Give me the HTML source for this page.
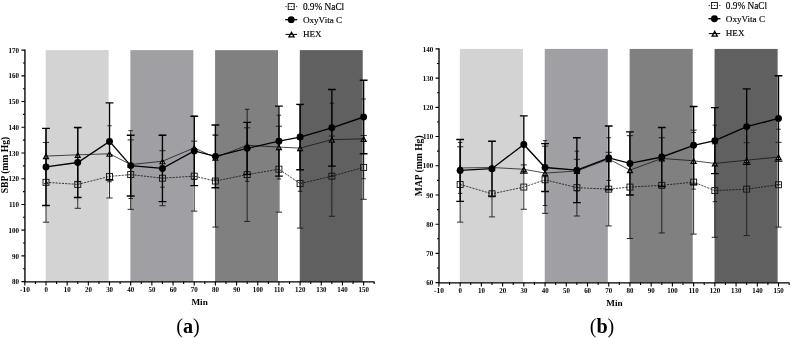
<!DOCTYPE html>
<html><head><meta charset="utf-8"><title>Figure</title>
<style>html,body{margin:0;padding:0;background:#fff;}svg{display:block;will-change:transform;}text{fill:#000;}</style></head>
<body>
<svg width="791" height="338" viewBox="0 0 791 338">
<rect width="791" height="338" fill="#fff"/>
<g>
<rect x="45.7" y="50.12" width="62.93" height="231.48" fill="#d3d3d3"/>
<rect x="130.4" y="50.12" width="62.93" height="231.48" fill="#a0a0a4"/>
<rect x="215.1" y="50.12" width="62.93" height="231.48" fill="#808080"/>
<rect x="299.8" y="50.12" width="62.92" height="231.48" fill="#606060"/>
<path d="M46 142.45V222.19M42.9 142.45h6.2M42.9 222.19h6.2" stroke="#1a1a1a" stroke-width="0.9" fill="none"/>
<path d="M77.76 160.46V208.3M74.66 160.46h6.2M74.66 208.3h6.2" stroke="#1a1a1a" stroke-width="0.9" fill="none"/>
<path d="M109.53 154.8V198.01M106.43 154.8h6.2M106.43 198.01h6.2" stroke="#1a1a1a" stroke-width="0.9" fill="none"/>
<path d="M130.7 139.88V209.33M127.6 139.88h6.2M127.6 209.33h6.2" stroke="#1a1a1a" stroke-width="0.9" fill="none"/>
<path d="M162.46 150.69V205.73M159.36 150.69h6.2M159.36 205.73h6.2" stroke="#1a1a1a" stroke-width="0.9" fill="none"/>
<path d="M194.23 141.17V211.13M191.13 141.17h6.2M191.13 211.13h6.2" stroke="#1a1a1a" stroke-width="0.9" fill="none"/>
<path d="M215.4 135V227.07M212.3 135h6.2M212.3 227.07h6.2" stroke="#1a1a1a" stroke-width="0.9" fill="none"/>
<path d="M247.16 127.79V221.42M244.06 127.79h6.2M244.06 221.42h6.2" stroke="#1a1a1a" stroke-width="0.9" fill="none"/>
<path d="M278.93 126.25V212.16M275.82 126.25h6.2M275.82 212.16h6.2" stroke="#1a1a1a" stroke-width="0.9" fill="none"/>
<path d="M300.1 139.11V228.1M297 139.11h6.2M297 228.1h6.2" stroke="#1a1a1a" stroke-width="0.9" fill="none"/>
<path d="M331.86 136.02V216.27M328.76 136.02h6.2M328.76 216.27h6.2" stroke="#1a1a1a" stroke-width="0.9" fill="none"/>
<path d="M363.62 135.51V199.3M360.52 135.51h6.2M360.52 199.3h6.2" stroke="#1a1a1a" stroke-width="0.9" fill="none"/>
<polyline points="46,182.32 77.76,184.38 109.53,176.41 130.7,174.6 162.46,178.21 194.23,176.15 215.4,181.03 247.16,174.6 278.93,169.2 300.1,183.61 331.86,176.15 363.62,167.4" fill="none" stroke="#111" stroke-width="0.8" stroke-dasharray="2.1 1.1"/>
<rect x="43" y="179.32" width="6" height="6" fill="none" stroke="#111" stroke-width="0.9"/>
<rect x="74.76" y="181.38" width="6" height="6" fill="none" stroke="#111" stroke-width="0.9"/>
<rect x="106.53" y="173.41" width="6" height="6" fill="none" stroke="#111" stroke-width="0.9"/>
<rect x="127.7" y="171.6" width="6" height="6" fill="none" stroke="#111" stroke-width="0.9"/>
<rect x="159.46" y="175.21" width="6" height="6" fill="none" stroke="#111" stroke-width="0.9"/>
<rect x="191.23" y="173.15" width="6" height="6" fill="none" stroke="#111" stroke-width="0.9"/>
<rect x="212.4" y="178.03" width="6" height="6" fill="none" stroke="#111" stroke-width="0.9"/>
<rect x="244.16" y="171.6" width="6" height="6" fill="none" stroke="#111" stroke-width="0.9"/>
<rect x="275.93" y="166.2" width="6" height="6" fill="none" stroke="#111" stroke-width="0.9"/>
<rect x="297.1" y="180.61" width="6" height="6" fill="none" stroke="#111" stroke-width="0.9"/>
<rect x="328.86" y="173.15" width="6" height="6" fill="none" stroke="#111" stroke-width="0.9"/>
<rect x="360.62" y="164.4" width="6" height="6" fill="none" stroke="#111" stroke-width="0.9"/>
<path d="M46 128.57V183.61M43.75 128.57h4.5M43.75 183.61h4.5" stroke="#111" stroke-width="0.85" fill="none"/>
<path d="M77.76 127.79V181.81M75.51 127.79h4.5M75.51 181.81h4.5" stroke="#111" stroke-width="0.85" fill="none"/>
<path d="M109.53 125.74V181.81M107.28 125.74h4.5M107.28 181.81h4.5" stroke="#111" stroke-width="0.85" fill="none"/>
<path d="M130.7 130.62V198.52M128.45 130.62h4.5M128.45 198.52h4.5" stroke="#111" stroke-width="0.85" fill="none"/>
<path d="M162.46 135.25V187.21M160.21 135.25h4.5M160.21 187.21h4.5" stroke="#111" stroke-width="0.85" fill="none"/>
<path d="M194.23 116.22V179.49M191.98 116.22h4.5M191.98 179.49h4.5" stroke="#111" stroke-width="0.85" fill="none"/>
<path d="M215.4 135.25V180.01M213.15 135.25h4.5M213.15 180.01h4.5" stroke="#111" stroke-width="0.85" fill="none"/>
<path d="M247.16 109.28V181.29M244.91 109.28h4.5M244.91 181.29h4.5" stroke="#111" stroke-width="0.85" fill="none"/>
<path d="M278.93 115.19V178.98M276.68 115.19h4.5M276.68 178.98h4.5" stroke="#111" stroke-width="0.85" fill="none"/>
<path d="M300.1 104.9V191.32M297.85 104.9h4.5M297.85 191.32h4.5" stroke="#111" stroke-width="0.85" fill="none"/>
<path d="M331.86 103.1V176.15M329.61 103.1h4.5M329.61 176.15h4.5" stroke="#111" stroke-width="0.85" fill="none"/>
<path d="M363.62 98.99V178.72M361.38 98.99h4.5M361.38 178.72h4.5" stroke="#111" stroke-width="0.85" fill="none"/>
<polyline points="46,156.09 77.76,154.8 109.53,153.77 130.7,164.57 162.46,161.23 194.23,147.86 215.4,157.63 247.16,145.28 278.93,147.08 300.1,148.11 331.86,139.63 363.62,138.85" fill="none" stroke="#111" stroke-width="0.75"/>
<path d="M46 154.09L48.45 158.59H43.55Z" fill="#fff" stroke="#000" stroke-width="1.2"/>
<path d="M77.76 152.8L80.21 157.3H75.31Z" fill="#fff" stroke="#000" stroke-width="1.2"/>
<path d="M109.53 151.77L111.98 156.27H107.08Z" fill="#fff" stroke="#000" stroke-width="1.2"/>
<path d="M130.7 162.57L133.15 167.07H128.25Z" fill="#fff" stroke="#000" stroke-width="1.2"/>
<path d="M162.46 159.23L164.91 163.73H160.01Z" fill="#fff" stroke="#000" stroke-width="1.2"/>
<path d="M194.23 145.86L196.68 150.36H191.78Z" fill="#fff" stroke="#000" stroke-width="1.2"/>
<path d="M215.4 155.63L217.85 160.13H212.95Z" fill="#fff" stroke="#000" stroke-width="1.2"/>
<path d="M247.16 143.28L249.61 147.78H244.71Z" fill="#fff" stroke="#000" stroke-width="1.2"/>
<path d="M278.93 145.08L281.38 149.58H276.48Z" fill="#fff" stroke="#000" stroke-width="1.2"/>
<path d="M300.1 146.11L302.55 150.61H297.65Z" fill="#fff" stroke="#000" stroke-width="1.2"/>
<path d="M331.86 137.63L334.31 142.13H329.41Z" fill="#fff" stroke="#000" stroke-width="1.2"/>
<path d="M363.62 136.85L366.07 141.35H361.18Z" fill="#fff" stroke="#000" stroke-width="1.2"/>
<path d="M46 128.31V205.47M42.1 128.31h7.8M42.1 205.47h7.8" stroke="#000" stroke-width="1.35" fill="none"/>
<path d="M77.76 127.54V197.5M73.86 127.54h7.8M73.86 197.5h7.8" stroke="#000" stroke-width="1.35" fill="none"/>
<path d="M109.53 102.85V180.01M105.62 102.85h7.8M105.62 180.01h7.8" stroke="#000" stroke-width="1.35" fill="none"/>
<path d="M130.7 135.25V195.95M126.8 135.25h7.8M126.8 195.95h7.8" stroke="#000" stroke-width="1.35" fill="none"/>
<path d="M162.46 135.25V201.61M158.56 135.25h7.8M158.56 201.61h7.8" stroke="#000" stroke-width="1.35" fill="none"/>
<path d="M194.23 116.22V185.66M190.33 116.22h7.8M190.33 185.66h7.8" stroke="#000" stroke-width="1.35" fill="none"/>
<path d="M215.4 124.97V187.72M211.5 124.97h7.8M211.5 187.72h7.8" stroke="#000" stroke-width="1.35" fill="none"/>
<path d="M247.16 122.39V174.35M243.26 122.39h7.8M243.26 174.35h7.8" stroke="#000" stroke-width="1.35" fill="none"/>
<path d="M278.93 106.19V176.15M275.03 106.19h7.8M275.03 176.15h7.8" stroke="#000" stroke-width="1.35" fill="none"/>
<path d="M300.1 104.39V169.72M296.2 104.39h7.8M296.2 169.72h7.8" stroke="#000" stroke-width="1.35" fill="none"/>
<path d="M331.86 89.47V166.12M327.96 89.47h7.8M327.96 166.12h7.8" stroke="#000" stroke-width="1.35" fill="none"/>
<path d="M363.62 80.21V153.77M359.73 80.21h7.8M359.73 153.77h7.8" stroke="#000" stroke-width="1.35" fill="none"/>
<polyline points="46,166.89 77.76,162.52 109.53,141.43 130.7,165.6 162.46,168.43 194.23,150.94 215.4,156.34 247.16,148.37 278.93,141.17 300.1,137.05 331.86,127.79 363.62,116.99" fill="none" stroke="#000" stroke-width="1.35"/>
<circle cx="46" cy="166.89" r="3.45" fill="#000"/>
<circle cx="77.76" cy="162.52" r="3.45" fill="#000"/>
<circle cx="109.53" cy="141.43" r="3.45" fill="#000"/>
<circle cx="130.7" cy="165.6" r="3.45" fill="#000"/>
<circle cx="162.46" cy="168.43" r="3.45" fill="#000"/>
<circle cx="194.23" cy="150.94" r="3.45" fill="#000"/>
<circle cx="215.4" cy="156.34" r="3.45" fill="#000"/>
<circle cx="247.16" cy="148.37" r="3.45" fill="#000"/>
<circle cx="278.93" cy="141.17" r="3.45" fill="#000"/>
<circle cx="300.1" cy="137.05" r="3.45" fill="#000"/>
<circle cx="331.86" cy="127.79" r="3.45" fill="#000"/>
<circle cx="363.62" cy="116.99" r="3.45" fill="#000"/>
<path d="M24.93 49.52V282.5M24.22 281.8H374.21" stroke="#000" stroke-width="1.35" fill="none"/>
<path d="M24.82 281.6h-3.4M24.82 268.74h-1.9M24.82 255.88h-3.4M24.82 243.02h-1.9M24.82 230.16h-3.4M24.82 217.3h-1.9M24.82 204.44h-3.4M24.82 191.58h-1.9M24.82 178.72h-3.4M24.82 165.86h-1.9M24.82 153h-3.4M24.82 140.14h-1.9M24.82 127.28h-3.4M24.82 114.42h-1.9M24.82 101.56h-3.4M24.82 88.7h-1.9M24.82 75.84h-3.4M24.82 62.98h-1.9M24.82 50.12h-3.4M24.82 281.6v3.8M35.41 281.6v2.4M46 281.6v3.8M56.59 281.6v2.4M67.17 281.6v3.8M77.76 281.6v2.4M88.35 281.6v3.8M98.94 281.6v2.4M109.53 281.6v3.8M120.11 281.6v2.4M130.7 281.6v3.8M141.29 281.6v2.4M151.88 281.6v3.8M162.46 281.6v2.4M173.05 281.6v3.8M183.64 281.6v2.4M194.23 281.6v3.8M204.81 281.6v2.4M215.4 281.6v3.8M225.99 281.6v2.4M236.58 281.6v3.8M247.16 281.6v2.4M257.75 281.6v3.8M268.34 281.6v2.4M278.93 281.6v3.8M289.51 281.6v2.4M300.1 281.6v3.8M310.69 281.6v2.4M321.28 281.6v3.8M331.86 281.6v2.4M342.45 281.6v3.8M353.04 281.6v2.4M363.62 281.6v3.8M374.21 281.6v2.4" stroke="#000" stroke-width="1.1" fill="none"/>
<text transform="translate(19.07 284.25) scale(0.92 1)" text-anchor="end" font-family="Liberation Serif, serif" font-weight="bold" text-rendering="geometricPrecision" font-size="7.6">80</text>
<text transform="translate(19.07 258.53) scale(0.92 1)" text-anchor="end" font-family="Liberation Serif, serif" font-weight="bold" text-rendering="geometricPrecision" font-size="7.6">90</text>
<text transform="translate(19.07 232.81) scale(0.92 1)" text-anchor="end" font-family="Liberation Serif, serif" font-weight="bold" text-rendering="geometricPrecision" font-size="7.6">100</text>
<text transform="translate(19.07 207.09) scale(0.92 1)" text-anchor="end" font-family="Liberation Serif, serif" font-weight="bold" text-rendering="geometricPrecision" font-size="7.6">110</text>
<text transform="translate(19.07 181.37) scale(0.92 1)" text-anchor="end" font-family="Liberation Serif, serif" font-weight="bold" text-rendering="geometricPrecision" font-size="7.6">120</text>
<text transform="translate(19.07 155.65) scale(0.92 1)" text-anchor="end" font-family="Liberation Serif, serif" font-weight="bold" text-rendering="geometricPrecision" font-size="7.6">130</text>
<text transform="translate(19.07 129.93) scale(0.92 1)" text-anchor="end" font-family="Liberation Serif, serif" font-weight="bold" text-rendering="geometricPrecision" font-size="7.6">140</text>
<text transform="translate(19.07 104.21) scale(0.92 1)" text-anchor="end" font-family="Liberation Serif, serif" font-weight="bold" text-rendering="geometricPrecision" font-size="7.6">150</text>
<text transform="translate(19.07 78.49) scale(0.92 1)" text-anchor="end" font-family="Liberation Serif, serif" font-weight="bold" text-rendering="geometricPrecision" font-size="7.6">160</text>
<text transform="translate(19.07 52.77) scale(0.92 1)" text-anchor="end" font-family="Liberation Serif, serif" font-weight="bold" text-rendering="geometricPrecision" font-size="7.6">170</text>
<text transform="translate(24.93 292.3) scale(0.98 1)" text-anchor="middle" font-family="Liberation Serif, serif" font-weight="bold" text-rendering="geometricPrecision" font-size="7.6">-10</text>
<text transform="translate(46.1 292.3) scale(0.91 1)" text-anchor="middle" font-family="Liberation Serif, serif" font-weight="bold" text-rendering="geometricPrecision" font-size="7.6">0</text>
<text transform="translate(67.27 292.3) scale(0.91 1)" text-anchor="middle" font-family="Liberation Serif, serif" font-weight="bold" text-rendering="geometricPrecision" font-size="7.6">10</text>
<text transform="translate(88.45 292.3) scale(0.91 1)" text-anchor="middle" font-family="Liberation Serif, serif" font-weight="bold" text-rendering="geometricPrecision" font-size="7.6">20</text>
<text transform="translate(109.62 292.3) scale(0.91 1)" text-anchor="middle" font-family="Liberation Serif, serif" font-weight="bold" text-rendering="geometricPrecision" font-size="7.6">30</text>
<text transform="translate(130.8 292.3) scale(0.91 1)" text-anchor="middle" font-family="Liberation Serif, serif" font-weight="bold" text-rendering="geometricPrecision" font-size="7.6">40</text>
<text transform="translate(151.97 292.3) scale(0.91 1)" text-anchor="middle" font-family="Liberation Serif, serif" font-weight="bold" text-rendering="geometricPrecision" font-size="7.6">50</text>
<text transform="translate(173.15 292.3) scale(0.91 1)" text-anchor="middle" font-family="Liberation Serif, serif" font-weight="bold" text-rendering="geometricPrecision" font-size="7.6">60</text>
<text transform="translate(194.33 292.3) scale(0.91 1)" text-anchor="middle" font-family="Liberation Serif, serif" font-weight="bold" text-rendering="geometricPrecision" font-size="7.6">70</text>
<text transform="translate(215.5 292.3) scale(0.91 1)" text-anchor="middle" font-family="Liberation Serif, serif" font-weight="bold" text-rendering="geometricPrecision" font-size="7.6">80</text>
<text transform="translate(236.68 292.3) scale(0.91 1)" text-anchor="middle" font-family="Liberation Serif, serif" font-weight="bold" text-rendering="geometricPrecision" font-size="7.6">90</text>
<text transform="translate(257.85 292.3) scale(0.91 1)" text-anchor="middle" font-family="Liberation Serif, serif" font-weight="bold" text-rendering="geometricPrecision" font-size="7.6">100</text>
<text transform="translate(279.03 292.3) scale(0.91 1)" text-anchor="middle" font-family="Liberation Serif, serif" font-weight="bold" text-rendering="geometricPrecision" font-size="7.6">110</text>
<text transform="translate(300.2 292.3) scale(0.91 1)" text-anchor="middle" font-family="Liberation Serif, serif" font-weight="bold" text-rendering="geometricPrecision" font-size="7.6">120</text>
<text transform="translate(321.38 292.3) scale(0.91 1)" text-anchor="middle" font-family="Liberation Serif, serif" font-weight="bold" text-rendering="geometricPrecision" font-size="7.6">130</text>
<text transform="translate(342.55 292.3) scale(0.91 1)" text-anchor="middle" font-family="Liberation Serif, serif" font-weight="bold" text-rendering="geometricPrecision" font-size="7.6">140</text>
<text transform="translate(363.73 292.3) scale(0.91 1)" text-anchor="middle" font-family="Liberation Serif, serif" font-weight="bold" text-rendering="geometricPrecision" font-size="7.6">150</text>
<text transform="translate(7.5 165.06) rotate(-90)" text-anchor="middle" font-family="Liberation Serif, serif" font-weight="bold" font-size="9.6">SBP (mm Hg)</text>
<text x="199.6" y="305" text-anchor="middle" font-family="Liberation Serif, serif" font-weight="bold" font-size="9.2">Min</text>
<text x="188" y="332.5" text-anchor="middle" font-family="Liberation Serif, serif" font-size="20.2">(<tspan font-weight="bold">a</tspan>)</text>
<path d="M285.4 6.6h11.8" stroke="#111" stroke-width="0.85" stroke-dasharray="1.3 1.35" fill="none"/>
<rect x="288.2" y="3.6" width="6" height="6" fill="none" stroke="#111" stroke-width="0.9"/>
<path d="M285.2 19.65h12" stroke="#000" stroke-width="1.35" fill="none"/>
<circle cx="291.2" cy="19.65" r="3.45" fill="#000"/>
<path d="M291.5 32.2L294.1 36.9H288.9Z" fill="#fff" stroke="#000" stroke-width="1.25"/>
<path d="M285.6 34.4h11.4" stroke="#000" stroke-width="1.0" fill="none"/>
<text x="302.9" y="9.9" font-family="Liberation Serif, serif" font-size="9.3" stroke="#000" stroke-width="0.15">0.9% NaCl</text>
<text x="302.9" y="22.5" font-family="Liberation Serif, serif" font-size="9.15" stroke="#000" stroke-width="0.15">OxyVita C</text>
<text x="302.9" y="36.9" font-family="Liberation Serif, serif" font-size="9.1" stroke="#000" stroke-width="0.15">HEX</text>
</g>
<g>
<rect x="459.85" y="48.92" width="63.07" height="233.68" fill="#d3d3d3"/>
<rect x="544.75" y="48.92" width="63.08" height="233.68" fill="#a0a0a4"/>
<rect x="629.65" y="48.92" width="63.07" height="233.68" fill="#808080"/>
<rect x="714.55" y="48.92" width="63.07" height="233.68" fill="#606060"/>
<path d="M460.15 146.77V222.14M457.05 146.77h6.2M457.05 222.14h6.2" stroke="#1a1a1a" stroke-width="0.9" fill="none"/>
<path d="M491.99 170.73V216.88M488.89 170.73h6.2M488.89 216.88h6.2" stroke="#1a1a1a" stroke-width="0.9" fill="none"/>
<path d="M523.82 164.88V209.28M520.72 164.88h6.2M520.72 209.28h6.2" stroke="#1a1a1a" stroke-width="0.9" fill="none"/>
<path d="M545.05 146.19V213.37M541.95 146.19h6.2M541.95 213.37h6.2" stroke="#1a1a1a" stroke-width="0.9" fill="none"/>
<path d="M576.89 159.33V216M573.79 159.33h6.2M573.79 216h6.2" stroke="#1a1a1a" stroke-width="0.9" fill="none"/>
<path d="M608.73 152.32V225.93M605.62 152.32h6.2M605.62 225.93h6.2" stroke="#1a1a1a" stroke-width="0.9" fill="none"/>
<path d="M629.95 135.67V238.49M626.85 135.67h6.2M626.85 238.49h6.2" stroke="#1a1a1a" stroke-width="0.9" fill="none"/>
<path d="M661.79 137.72V232.94M658.69 137.72h6.2M658.69 232.94h6.2" stroke="#1a1a1a" stroke-width="0.9" fill="none"/>
<path d="M693.62 130.12V234.11M690.52 130.12h6.2M690.52 234.11h6.2" stroke="#1a1a1a" stroke-width="0.9" fill="none"/>
<path d="M714.85 143.85V237.32M711.75 143.85h6.2M711.75 237.32h6.2" stroke="#1a1a1a" stroke-width="0.9" fill="none"/>
<path d="M746.69 142.68V235.57M743.59 142.68h6.2M743.59 235.57h6.2" stroke="#1a1a1a" stroke-width="0.9" fill="none"/>
<path d="M778.52 142.39V227.1M775.42 142.39h6.2M775.42 227.1h6.2" stroke="#1a1a1a" stroke-width="0.9" fill="none"/>
<polyline points="460.15,184.45 491.99,193.8 523.82,187.08 545.05,179.78 576.89,187.67 608.73,189.13 629.95,187.08 661.79,185.33 693.62,182.12 714.85,190.59 746.69,189.13 778.52,184.75" fill="none" stroke="#111" stroke-width="0.8" stroke-dasharray="2.1 1.1"/>
<rect x="457.15" y="181.45" width="6" height="6" fill="none" stroke="#111" stroke-width="0.9"/>
<rect x="488.99" y="190.8" width="6" height="6" fill="none" stroke="#111" stroke-width="0.9"/>
<rect x="520.82" y="184.08" width="6" height="6" fill="none" stroke="#111" stroke-width="0.9"/>
<rect x="542.05" y="176.78" width="6" height="6" fill="none" stroke="#111" stroke-width="0.9"/>
<rect x="573.89" y="184.67" width="6" height="6" fill="none" stroke="#111" stroke-width="0.9"/>
<rect x="605.73" y="186.13" width="6" height="6" fill="none" stroke="#111" stroke-width="0.9"/>
<rect x="626.95" y="184.08" width="6" height="6" fill="none" stroke="#111" stroke-width="0.9"/>
<rect x="658.79" y="182.33" width="6" height="6" fill="none" stroke="#111" stroke-width="0.9"/>
<rect x="690.62" y="179.12" width="6" height="6" fill="none" stroke="#111" stroke-width="0.9"/>
<rect x="711.85" y="187.59" width="6" height="6" fill="none" stroke="#111" stroke-width="0.9"/>
<rect x="743.69" y="186.13" width="6" height="6" fill="none" stroke="#111" stroke-width="0.9"/>
<rect x="775.52" y="181.75" width="6" height="6" fill="none" stroke="#111" stroke-width="0.9"/>
<path d="M460.15 142.54V193.36M457.9 142.54h4.5M457.9 193.36h4.5" stroke="#111" stroke-width="0.85" fill="none"/>
<path d="M545.05 140.64V205.49M542.8 140.64h4.5M542.8 205.49h4.5" stroke="#111" stroke-width="0.85" fill="none"/>
<path d="M576.89 151.16V190.88M574.64 151.16h4.5M574.64 190.88h4.5" stroke="#111" stroke-width="0.85" fill="none"/>
<path d="M608.73 137.72V180.37M606.48 137.72h4.5M606.48 180.37h4.5" stroke="#111" stroke-width="0.85" fill="none"/>
<path d="M693.62 132.46V189.13M691.38 132.46h4.5M691.38 189.13h4.5" stroke="#111" stroke-width="0.85" fill="none"/>
<path d="M714.85 125.16V201.69M712.6 125.16h4.5M712.6 201.69h4.5" stroke="#111" stroke-width="0.85" fill="none"/>
<path d="M778.52 129.25V184.75M776.27 129.25h4.5M776.27 184.75h4.5" stroke="#111" stroke-width="0.85" fill="none"/>
<polyline points="460.15,167.95 491.99,167.51 523.82,169.27 545.05,173.06 576.89,171.02 608.73,159.04 629.95,170.14 661.79,158.46 693.62,160.79 714.85,163.42 746.69,160.21 778.52,157" fill="none" stroke="#111" stroke-width="0.75"/>
<path d="M460.15 165.95L462.6 170.45H457.7Z" fill="#fff" stroke="#000" stroke-width="1.2"/>
<path d="M491.99 165.51L494.44 170.01H489.54Z" fill="#fff" stroke="#000" stroke-width="1.2"/>
<path d="M523.82 167.27L526.27 171.77H521.37Z" fill="#fff" stroke="#000" stroke-width="1.2"/>
<path d="M545.05 171.06L547.5 175.56H542.6Z" fill="#fff" stroke="#000" stroke-width="1.2"/>
<path d="M576.89 169.02L579.34 173.52H574.44Z" fill="#fff" stroke="#000" stroke-width="1.2"/>
<path d="M608.73 157.04L611.18 161.54H606.27Z" fill="#fff" stroke="#000" stroke-width="1.2"/>
<path d="M629.95 168.14L632.4 172.64H627.5Z" fill="#fff" stroke="#000" stroke-width="1.2"/>
<path d="M661.79 156.46L664.24 160.96H659.34Z" fill="#fff" stroke="#000" stroke-width="1.2"/>
<path d="M693.62 158.79L696.08 163.29H691.17Z" fill="#fff" stroke="#000" stroke-width="1.2"/>
<path d="M714.85 161.42L717.3 165.92H712.4Z" fill="#fff" stroke="#000" stroke-width="1.2"/>
<path d="M746.69 158.21L749.14 162.71H744.24Z" fill="#fff" stroke="#000" stroke-width="1.2"/>
<path d="M778.52 155L780.98 159.5H776.07Z" fill="#fff" stroke="#000" stroke-width="1.2"/>
<path d="M460.15 139.47V201.4M456.25 139.47h7.8M456.25 201.4h7.8" stroke="#000" stroke-width="1.35" fill="none"/>
<path d="M491.99 141.22V196.14M488.09 141.22h7.8M488.09 196.14h7.8" stroke="#000" stroke-width="1.35" fill="none"/>
<path d="M523.82 115.81V173.06M519.92 115.81h7.8M519.92 173.06h7.8" stroke="#000" stroke-width="1.35" fill="none"/>
<path d="M545.05 143.56V191.46M541.15 143.56h7.8M541.15 191.46h7.8" stroke="#000" stroke-width="1.35" fill="none"/>
<path d="M576.89 137.72V202.56M572.99 137.72h7.8M572.99 202.56h7.8" stroke="#000" stroke-width="1.35" fill="none"/>
<path d="M608.73 126.03V189.71M604.83 126.03h7.8M604.83 189.71h7.8" stroke="#000" stroke-width="1.35" fill="none"/>
<path d="M629.95 131.88V194.97M626.05 131.88h7.8M626.05 194.97h7.8" stroke="#000" stroke-width="1.35" fill="none"/>
<path d="M661.79 127.49V186.5M657.89 127.49h7.8M657.89 186.5h7.8" stroke="#000" stroke-width="1.35" fill="none"/>
<path d="M693.62 106.46V184.16M689.73 106.46h7.8M689.73 184.16h7.8" stroke="#000" stroke-width="1.35" fill="none"/>
<path d="M714.85 107.63V173.65M710.95 107.63h7.8M710.95 173.65h7.8" stroke="#000" stroke-width="1.35" fill="none"/>
<path d="M746.69 88.94V164.3M742.79 88.94h7.8M742.79 164.3h7.8" stroke="#000" stroke-width="1.35" fill="none"/>
<path d="M778.52 75.79V161.09M774.62 75.79h7.8M774.62 161.09h7.8" stroke="#000" stroke-width="1.35" fill="none"/>
<polyline points="460.15,170.43 491.99,168.68 523.82,144.44 545.05,167.51 576.89,170.14 608.73,157.87 629.95,163.42 661.79,157 693.62,145.31 714.85,140.64 746.69,126.62 778.52,118.44" fill="none" stroke="#000" stroke-width="1.35"/>
<circle cx="460.15" cy="170.43" r="3.45" fill="#000"/>
<circle cx="491.99" cy="168.68" r="3.45" fill="#000"/>
<circle cx="523.82" cy="144.44" r="3.45" fill="#000"/>
<circle cx="545.05" cy="167.51" r="3.45" fill="#000"/>
<circle cx="576.89" cy="170.14" r="3.45" fill="#000"/>
<circle cx="608.73" cy="157.87" r="3.45" fill="#000"/>
<circle cx="629.95" cy="163.42" r="3.45" fill="#000"/>
<circle cx="661.79" cy="157" r="3.45" fill="#000"/>
<circle cx="693.62" cy="145.31" r="3.45" fill="#000"/>
<circle cx="714.85" cy="140.64" r="3.45" fill="#000"/>
<circle cx="746.69" cy="126.62" r="3.45" fill="#000"/>
<circle cx="778.52" cy="118.44" r="3.45" fill="#000"/>
<path d="M439.02 48.32V283.5M438.32 282.8H789.14" stroke="#000" stroke-width="1.35" fill="none"/>
<path d="M438.92 282.6h-3.4M438.92 268h-1.9M438.92 253.39h-3.4M438.92 238.79h-1.9M438.92 224.18h-3.4M438.92 209.58h-1.9M438.92 194.97h-3.4M438.92 180.37h-1.9M438.92 165.76h-3.4M438.92 151.16h-1.9M438.92 136.55h-3.4M438.92 121.95h-1.9M438.92 107.34h-3.4M438.92 92.74h-1.9M438.92 78.13h-3.4M438.92 63.53h-1.9M438.92 48.92h-3.4M438.92 282.6v3.8M449.54 282.6v2.4M460.15 282.6v3.8M470.76 282.6v2.4M481.38 282.6v3.8M491.99 282.6v2.4M502.6 282.6v3.8M513.21 282.6v2.4M523.82 282.6v3.8M534.44 282.6v2.4M545.05 282.6v3.8M555.66 282.6v2.4M566.27 282.6v3.8M576.89 282.6v2.4M587.5 282.6v3.8M598.11 282.6v2.4M608.73 282.6v3.8M619.34 282.6v2.4M629.95 282.6v3.8M640.56 282.6v2.4M651.17 282.6v3.8M661.79 282.6v2.4M672.4 282.6v3.8M683.01 282.6v2.4M693.62 282.6v3.8M704.24 282.6v2.4M714.85 282.6v3.8M725.46 282.6v2.4M736.08 282.6v3.8M746.69 282.6v2.4M757.3 282.6v3.8M767.91 282.6v2.4M778.52 282.6v3.8M789.14 282.6v2.4" stroke="#000" stroke-width="1.1" fill="none"/>
<text transform="translate(433.17 285.25) scale(0.92 1)" text-anchor="end" font-family="Liberation Serif, serif" font-weight="bold" text-rendering="geometricPrecision" font-size="7.6">60</text>
<text transform="translate(433.17 256.04) scale(0.92 1)" text-anchor="end" font-family="Liberation Serif, serif" font-weight="bold" text-rendering="geometricPrecision" font-size="7.6">70</text>
<text transform="translate(433.17 226.83) scale(0.92 1)" text-anchor="end" font-family="Liberation Serif, serif" font-weight="bold" text-rendering="geometricPrecision" font-size="7.6">80</text>
<text transform="translate(433.17 197.62) scale(0.92 1)" text-anchor="end" font-family="Liberation Serif, serif" font-weight="bold" text-rendering="geometricPrecision" font-size="7.6">90</text>
<text transform="translate(433.17 168.41) scale(0.92 1)" text-anchor="end" font-family="Liberation Serif, serif" font-weight="bold" text-rendering="geometricPrecision" font-size="7.6">100</text>
<text transform="translate(433.17 139.2) scale(0.92 1)" text-anchor="end" font-family="Liberation Serif, serif" font-weight="bold" text-rendering="geometricPrecision" font-size="7.6">110</text>
<text transform="translate(433.17 109.99) scale(0.92 1)" text-anchor="end" font-family="Liberation Serif, serif" font-weight="bold" text-rendering="geometricPrecision" font-size="7.6">120</text>
<text transform="translate(433.17 80.78) scale(0.92 1)" text-anchor="end" font-family="Liberation Serif, serif" font-weight="bold" text-rendering="geometricPrecision" font-size="7.6">130</text>
<text transform="translate(433.17 51.57) scale(0.92 1)" text-anchor="end" font-family="Liberation Serif, serif" font-weight="bold" text-rendering="geometricPrecision" font-size="7.6">140</text>
<text transform="translate(439.02 293.3) scale(0.98 1)" text-anchor="middle" font-family="Liberation Serif, serif" font-weight="bold" text-rendering="geometricPrecision" font-size="7.6">-10</text>
<text transform="translate(460.25 293.3) scale(0.91 1)" text-anchor="middle" font-family="Liberation Serif, serif" font-weight="bold" text-rendering="geometricPrecision" font-size="7.6">0</text>
<text transform="translate(481.48 293.3) scale(0.91 1)" text-anchor="middle" font-family="Liberation Serif, serif" font-weight="bold" text-rendering="geometricPrecision" font-size="7.6">10</text>
<text transform="translate(502.7 293.3) scale(0.91 1)" text-anchor="middle" font-family="Liberation Serif, serif" font-weight="bold" text-rendering="geometricPrecision" font-size="7.6">20</text>
<text transform="translate(523.92 293.3) scale(0.91 1)" text-anchor="middle" font-family="Liberation Serif, serif" font-weight="bold" text-rendering="geometricPrecision" font-size="7.6">30</text>
<text transform="translate(545.15 293.3) scale(0.91 1)" text-anchor="middle" font-family="Liberation Serif, serif" font-weight="bold" text-rendering="geometricPrecision" font-size="7.6">40</text>
<text transform="translate(566.38 293.3) scale(0.91 1)" text-anchor="middle" font-family="Liberation Serif, serif" font-weight="bold" text-rendering="geometricPrecision" font-size="7.6">50</text>
<text transform="translate(587.6 293.3) scale(0.91 1)" text-anchor="middle" font-family="Liberation Serif, serif" font-weight="bold" text-rendering="geometricPrecision" font-size="7.6">60</text>
<text transform="translate(608.83 293.3) scale(0.91 1)" text-anchor="middle" font-family="Liberation Serif, serif" font-weight="bold" text-rendering="geometricPrecision" font-size="7.6">70</text>
<text transform="translate(630.05 293.3) scale(0.91 1)" text-anchor="middle" font-family="Liberation Serif, serif" font-weight="bold" text-rendering="geometricPrecision" font-size="7.6">80</text>
<text transform="translate(651.27 293.3) scale(0.91 1)" text-anchor="middle" font-family="Liberation Serif, serif" font-weight="bold" text-rendering="geometricPrecision" font-size="7.6">90</text>
<text transform="translate(672.5 293.3) scale(0.91 1)" text-anchor="middle" font-family="Liberation Serif, serif" font-weight="bold" text-rendering="geometricPrecision" font-size="7.6">100</text>
<text transform="translate(693.73 293.3) scale(0.91 1)" text-anchor="middle" font-family="Liberation Serif, serif" font-weight="bold" text-rendering="geometricPrecision" font-size="7.6">110</text>
<text transform="translate(714.95 293.3) scale(0.91 1)" text-anchor="middle" font-family="Liberation Serif, serif" font-weight="bold" text-rendering="geometricPrecision" font-size="7.6">120</text>
<text transform="translate(736.18 293.3) scale(0.91 1)" text-anchor="middle" font-family="Liberation Serif, serif" font-weight="bold" text-rendering="geometricPrecision" font-size="7.6">130</text>
<text transform="translate(757.4 293.3) scale(0.91 1)" text-anchor="middle" font-family="Liberation Serif, serif" font-weight="bold" text-rendering="geometricPrecision" font-size="7.6">140</text>
<text transform="translate(778.62 293.3) scale(0.91 1)" text-anchor="middle" font-family="Liberation Serif, serif" font-weight="bold" text-rendering="geometricPrecision" font-size="7.6">150</text>
<text transform="translate(422.2 165.76) rotate(-90)" text-anchor="middle" font-family="Liberation Serif, serif" font-weight="bold" font-size="9.6">MAP (mm Hg)</text>
<text x="614.5" y="305.6" text-anchor="middle" font-family="Liberation Serif, serif" font-weight="bold" font-size="9.2">Min</text>
<text x="602" y="332.5" text-anchor="middle" font-family="Liberation Serif, serif" font-size="20.2">(<tspan font-weight="bold">b</tspan>)</text>
<path d="M708.6 5.5h11.8" stroke="#111" stroke-width="0.85" stroke-dasharray="1.3 1.35" fill="none"/>
<rect x="711.4" y="2.5" width="6" height="6" fill="none" stroke="#111" stroke-width="0.9"/>
<path d="M708.4 18.7h12" stroke="#000" stroke-width="1.35" fill="none"/>
<circle cx="714.4" cy="18.7" r="3.45" fill="#000"/>
<path d="M714.7 31.4L717.3 36.1H712.1Z" fill="#fff" stroke="#000" stroke-width="1.25"/>
<path d="M708.8 33.6h11.4" stroke="#000" stroke-width="1.0" fill="none"/>
<text x="725.8" y="8.9" font-family="Liberation Serif, serif" font-size="9.3" stroke="#000" stroke-width="0.15">0.9% NaCl</text>
<text x="725.8" y="21.6" font-family="Liberation Serif, serif" font-size="9.15" stroke="#000" stroke-width="0.15">OxyVita C</text>
<text x="725.8" y="35.9" font-family="Liberation Serif, serif" font-size="9.1" stroke="#000" stroke-width="0.15">HEX</text>
</g>
</svg>
</body></html>
